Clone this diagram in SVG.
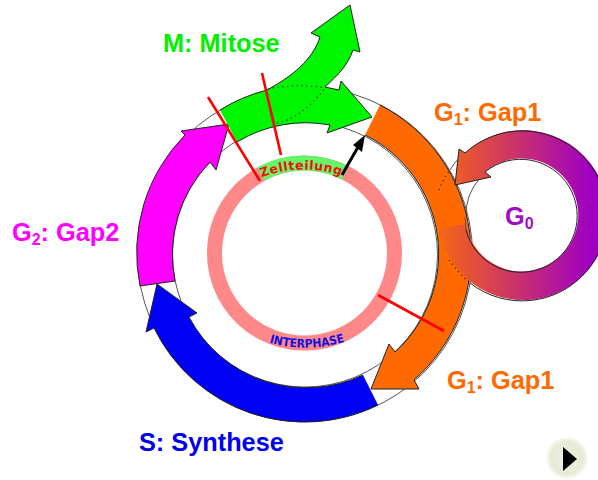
<svg xmlns="http://www.w3.org/2000/svg" width="598" height="480" viewBox="0 0 598 480">
<style>
.lb{font-family:"Liberation Sans",Arial,sans-serif;font-weight:bold;font-size:25.3px}
.sub{font-size:16px}
.seg{stroke:#222;stroke-width:1;stroke-linejoin:miter}
.thin{fill:none;stroke:#555;stroke-width:1}
.dot{fill:none;stroke:#222;stroke-width:1.2;stroke-dasharray:1.2 3.6}
.red{stroke:#f00;stroke-width:2.6;fill:none}
.arc{font-family:"DejaVu Sans",sans-serif;font-weight:bold}
</style>
<defs>
<linearGradient id="g0grad" gradientUnits="userSpaceOnUse" x1="440" y1="0" x2="590" y2="0">
<stop offset="0" stop-color="#f56614"/><stop offset="1" stop-color="#a000c0"/>
</linearGradient>
<radialGradient id="btn" cx="0.5" cy="0.5" r="0.5">
<stop offset="0" stop-color="#f0f2e4"/><stop offset="0.75" stop-color="#e6ead6"/><stop offset="1" stop-color="#fafbf5"/>
</radialGradient>
<path id="zt" d="M255,180 Q300,160 348,178"/>
<path id="ip" d="M258,339 Q305,357 356,338"/>
</defs>
<rect width="598" height="480" fill="#fff"/>
<g id="connectors">
<circle class="thin" cx="305" cy="254.5" r="167.5"/>
<circle class="thin" cx="305" cy="254.5" r="132.5"/>
<path class="thin" d="M466,217 A56,56 0 0 1 480,178"/>
<path class="thin" d="M450,170 A85,85 0 0 1 460,157"/>
</g>
<g id="inner-ring">
<circle cx="304.5" cy="253" r="90" fill="none" stroke="#ff8888" stroke-width="15"/>
<path d="M261,174 A90,90 0 0 1 345,173" fill="none" stroke="#66f566" stroke-width="15"/>
<text class="arc" font-size="12.5" fill="#f01010" letter-spacing="0.5"><textPath href="#zt" startOffset="50%" text-anchor="middle">Zellteilung</textPath></text>
<text class="arc" font-size="12" fill="#1010e0" style="font-stretch:condensed;font-family:'DejaVu Sans Condensed','DejaVu Sans',sans-serif"><textPath href="#ip" startOffset="50%" text-anchor="middle">INTERPHASE</textPath></text>
</g>
<g id="node-s">
<path class="seg" fill="#0000f5" d="M378,405 A167.5,167.5 0 0 1 154,328 L146,332 L157,284 L197,313 L189,317 A132.5,132.5 0 0 0 363,375"/>
</g>
<g id="node-g2">
<path class="seg" fill="#ff00ff" d="M140,286 A167.5,167.5 0 0 1 185,135 L181,131 L229,124 L216,170 L210,162 A132.5,132.5 0 0 0 175,281 Z"/>
</g>
<g id="node-m">
<path class="seg" fill="#00f500" d="M237,142 A132.5,132.5 0 0 1 330,125 L327,133 L372,117 L341,81 L339,90 L325,87 C338,75 348,65 353,50 L360,52 L350,5 L311,33 L320,37 C314,55 300,72 267,90 A167.5,167.5 0 0 0 220,110"/>
<path class="dot" d="M268,89 Q297,83 325,88"/>
<path class="dot" d="M277,123 Q302,118 325,88"/>
</g>
<g id="node-g1">
<path class="seg" fill="#ff6a00" d="M380,105 A167.5,167.5 0 0 1 414,380 L419,389 L371,389 L389,344 L395,352 A132.5,132.5 0 0 0 365,135"/>
</g>
<g id="node-g0">
<path fill="url(#g0grad)" d="M439,228 A85,85 0 1 0 465,153 L459,149 L455,185 L491,177 L485,172 A56.5,56.5 0 1 1 466,224 Z"/>
<path class="seg" fill="none" d="M470,283 A85,85 0 1 0 465,153 L459,149 L455,185 L491,177 L485,172 A56.5,56.5 0 1 1 466,230"/>
<path class="thin" d="M465,217 L466,230"/>
<path class="dot" d="M439,190 Q443,179 450,170"/>
<path class="dot" d="M449,260 Q458,273 470,283"/>
</g>
<g id="markers">
<path class="red" d="M208,97 L260,181"/>
<path class="red" d="M262,73 L281,155"/>
<path class="red" d="M378,295 L444,331"/>
<path d="M342,175 L358,147" stroke="#000" stroke-width="3" fill="none"/>
<path d="M365,135 L353,145 L362,152 Z" fill="#000"/>
</g>
<g id="labels">
<text class="lb" x="163" y="52" fill="#00f000">M: Mitose</text>
<text class="lb" x="434" y="121" fill="#ff6a00">G<tspan class="sub" dy="4">1</tspan><tspan dy="-4">: Gap1</tspan></text>
<text class="lb" x="447" y="389" fill="#ff6a00">G<tspan class="sub" dy="4">1</tspan><tspan dy="-4">: Gap1</tspan></text>
<text class="lb" x="12" y="241" fill="#ff00ff">G<tspan class="sub" dy="4">2</tspan><tspan dy="-4">: Gap2</tspan></text>
<text class="lb" x="139" y="451" fill="#0000f0">S: Synthese</text>
<text class="lb" x="505" y="225" fill="#a010c0">G<tspan class="sub" dy="4">0</tspan></text>
</g>
<g id="button">
<circle cx="567" cy="458" r="21" fill="url(#btn)"/>
<path d="M563,447 L563,471 L577,459 Z" fill="#000"/>
</g>
</svg>
